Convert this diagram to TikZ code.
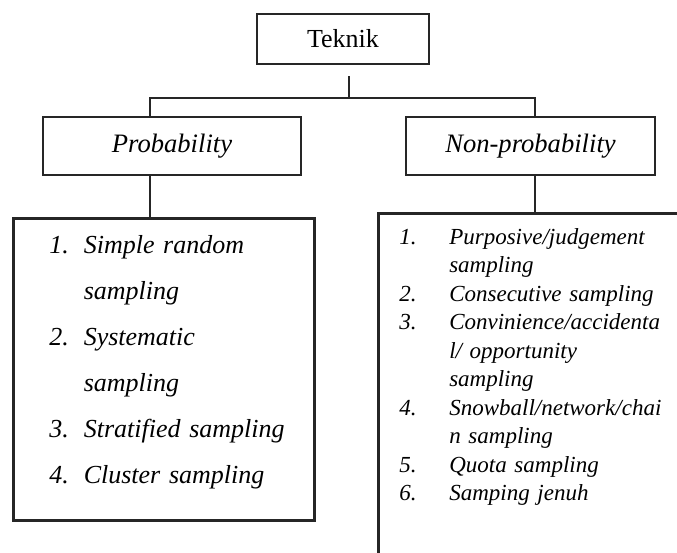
\documentclass[tikz,border=0pt]{standalone}
\usepackage{fontspec}
\setmainfont{Liberation Serif}
\usetikzlibrary{positioning}

\begin{document}
\begin{tikzpicture}[
        x=0.5pt, y=-0.5pt,
        flow/.style={line width=1.4pt, draw=black!85},
        box/.style={
            rectangle,
            draw=black!85,
            line width=1.4pt,
            align=center,
            inner sep=0pt,
            font=\fontsize{13}{15}\selectfont
        },
        listbox/.style={
            rectangle,
            draw=black!85,
            line width=1.3pt,
            align=left,
            inner ysep=0pt,
            anchor=north west
        }
    ]

    \useasboundingbox (0,0) rectangle (677,553);
    \clip (0,0) rectangle (677,553);

    \node[box, minimum width=86pt, minimum height=25pt] (teknik) at (343,39) {Teknik};

    \node[box, minimum width=129pt, minimum height=29pt,
        font=\fontsize{13.3}{15}\selectfont\itshape] (prob) at (172,146) {Probability};

    \node[box, minimum width=124.5pt, minimum height=29pt,
        font=\fontsize{13.3}{15}\selectfont\itshape] (nonprob) at (530.5,146) {Non-probability};

    \node[listbox, inner xsep=18pt, text width=114.5pt, text height=17.5pt, text depth=133.5pt,
        font=\fontsize{13}{23}\selectfont\itshape] (problist) at (12,217) {
        \begin{tabular}[t]{@{}l@{\hspace{7.5pt}}l@{}}
            1. & Simple random\\
               & sampling\\
            2. & Systematic\\
               & sampling\\
            3. & Stratified sampling\\
            4. & Cluster sampling
        \end{tabular}
    };

    \node[listbox, inner xsep=10.5pt, text width=140pt, text height=15.5pt, text depth=200pt,
        font=\fontsize{11.5}{14.25}\selectfont\itshape] (nonproblist) at (377,212) {
        \begin{tabular}[t]{@{}p{25pt}@{}l@{}}
            1. & Purposive/judgement\\
               & sampling\\
            2. & Consecutive sampling\\
            3. & Convinience/accidenta\\
               & l/ opportunity\\
               & sampling\\
            4. & Snowball/network/chai\\
               & n sampling\\
            5. & Quota sampling\\
            6. & Samping jenuh
        \end{tabular}
    };

    % tree connectors (stub under Teknik starts a little below the box)
    \coordinate (split) at (349,98);
    \coordinate (lsplit) at (150,98);
    \coordinate (rsplit) at (535,98);

    \draw[flow] ([yshift=-5.5pt]teknik.south -| split) -- (split);
    \draw[flow] (lsplit |- prob.north) -- (lsplit) -- (rsplit) -- (rsplit |- nonprob.north);
    \draw[flow] (prob.south -| lsplit) -- (lsplit |- problist.north);
    \draw[flow] (nonprob.south -| rsplit) -- (rsplit |- nonproblist.north);

\end{tikzpicture}
\end{document}
